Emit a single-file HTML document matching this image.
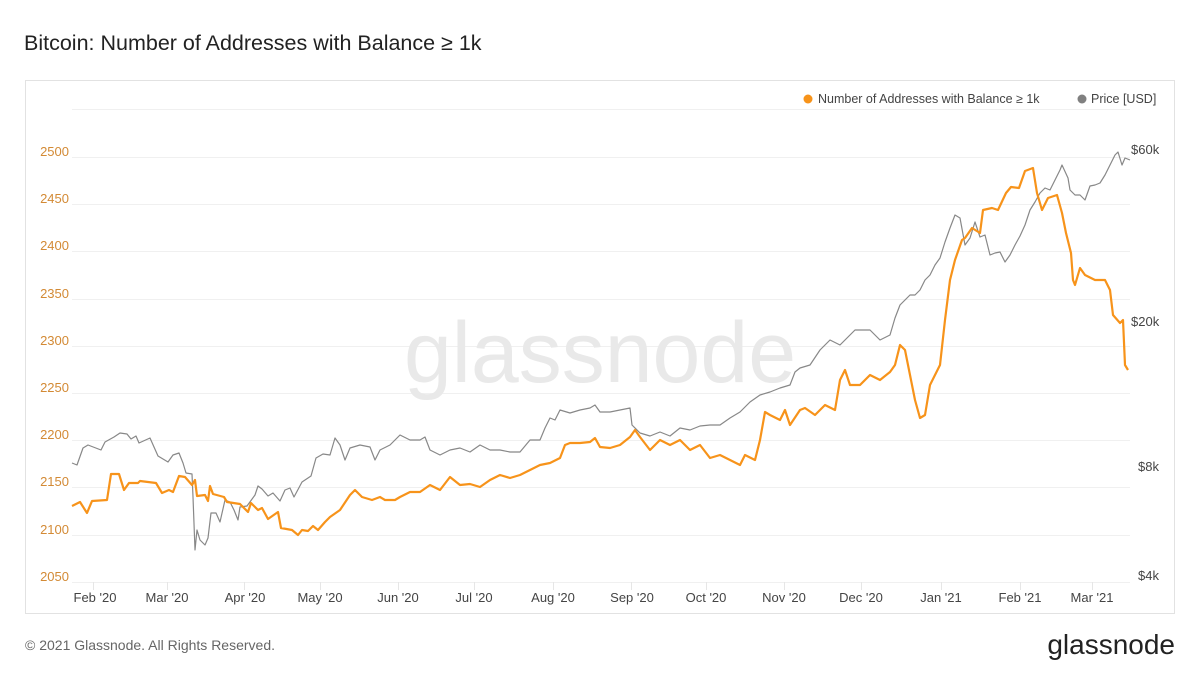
<!DOCTYPE html>
<html><head><meta charset="utf-8"><style>
body{margin:0;background:#fff;width:1200px;height:675px;overflow:hidden;font-family:"Liberation Sans",sans-serif}
</style></head><body>
<svg width="1200" height="675" xmlns="http://www.w3.org/2000/svg" font-family="Liberation Sans, sans-serif">
<text x="24" y="50" font-size="21.5" fill="#222" font-weight="500">Bitcoin: Number of Addresses with Balance ≥ 1k</text>
<rect x="25.5" y="80.5" width="1149" height="533" fill="#fff" stroke="#e2e2e2"/>
<g stroke="#f0f0f0" stroke-width="1">
<line x1="72" x2="1130" y1="109.5" y2="109.5"/>
<line x1="72" x2="1130" y1="157.5" y2="157.5"/>
<line x1="72" x2="1130" y1="204.5" y2="204.5"/>
<line x1="72" x2="1130" y1="251.5" y2="251.5"/>
<line x1="72" x2="1130" y1="299.5" y2="299.5"/>
<line x1="72" x2="1130" y1="346.5" y2="346.5"/>
<line x1="72" x2="1130" y1="393.5" y2="393.5"/>
<line x1="72" x2="1130" y1="440.5" y2="440.5"/>
<line x1="72" x2="1130" y1="487.5" y2="487.5"/>
<line x1="72" x2="1130" y1="535.5" y2="535.5"/>
<line x1="72" x2="1130" y1="582.5" y2="582.5"/>
</g>
<g stroke="#e6e6e6">
<line x1="93.5" x2="93.5" y1="582" y2="590"/><line x1="167.5" x2="167.5" y1="582" y2="590"/><line x1="244.5" x2="244.5" y1="582" y2="590"/><line x1="320.5" x2="320.5" y1="582" y2="590"/><line x1="398.5" x2="398.5" y1="582" y2="590"/><line x1="474.5" x2="474.5" y1="582" y2="590"/><line x1="553.5" x2="553.5" y1="582" y2="590"/><line x1="631.5" x2="631.5" y1="582" y2="590"/><line x1="706.5" x2="706.5" y1="582" y2="590"/><line x1="784.5" x2="784.5" y1="582" y2="590"/><line x1="861.5" x2="861.5" y1="582" y2="590"/><line x1="941.5" x2="941.5" y1="582" y2="590"/><line x1="1020.5" x2="1020.5" y1="582" y2="590"/><line x1="1092.5" x2="1092.5" y1="582" y2="590"/>
</g>
<text x="600" y="382" font-size="86" fill="#e9e9e9" text-anchor="middle" font-weight="500">glassnode</text>
<g font-size="13" fill="#d38a35" text-anchor="end">
<text x="69" y="156">2500</text><text x="69" y="203">2450</text><text x="69" y="250">2400</text><text x="69" y="298">2350</text><text x="69" y="345">2300</text><text x="69" y="392">2250</text><text x="69" y="439">2200</text><text x="69" y="486">2150</text><text x="69" y="534">2100</text><text x="69" y="581">2050</text>
</g>
<g font-size="13" fill="#444">
<text x="1131" y="154">$60k</text><text x="1131" y="326">$20k</text><text x="1138" y="471">$8k</text><text x="1138" y="580">$4k</text>
</g>
<g font-size="13" fill="#444" text-anchor="middle">
<text x="95" y="602">Feb '20</text><text x="167" y="602">Mar '20</text><text x="245" y="602">Apr '20</text><text x="320" y="602">May '20</text><text x="398" y="602">Jun '20</text><text x="474" y="602">Jul '20</text><text x="553" y="602">Aug '20</text><text x="632" y="602">Sep '20</text><text x="706" y="602">Oct '20</text><text x="784" y="602">Nov '20</text><text x="861" y="602">Dec '20</text><text x="941" y="602">Jan '21</text><text x="1020" y="602">Feb '21</text><text x="1092" y="602">Mar '21</text>
</g>
<circle cx="808" cy="99" r="4.5" fill="#f7931a"/>
<text x="818" y="103" font-size="12.5" fill="#444">Number of Addresses with Balance ≥ 1k</text>
<circle cx="1082" cy="99" r="4.5" fill="#808080"/>
<text x="1091" y="103" font-size="12.5" fill="#444">Price [USD]</text>
<polyline fill="none" stroke="#888" stroke-width="1.2" stroke-linejoin="round" points="72,463 77,465 83,448 88,445 101,450 105,442 114,437 120,433 127,434 131,439 136,436 139,443 150,438 158,456 168,462 173,455 179,453 183,463 186,473 192,474 193,497 195,550 197,530 200,540 205,545 208,538 211,513 216,513 220,522 225,500 230,502 234,510 238,520 240,507 247,506 255,495 258,486 262,489 268,496 273,493 280,501 285,490 290,488 294,497 302,482 311,476 316,458 323,454 330,455 335,438 340,445 345,460 350,448 360,445 370,447 375,460 380,450 390,445 395,440 400,435 410,440 420,440 425,437 430,450 440,455 450,450 460,448 470,452 480,445 490,450 500,450 510,452 520,452 530,440 540,440 545,428 550,418 555,420 560,410 570,413 580,410 590,408 595,405 600,412 610,412 620,410 630,408 632,425 640,433 650,436 660,432 670,436 680,428 690,430 700,426 710,425 720,425 730,418 740,412 750,402 760,395 770,392 780,388 790,385 795,372 800,368 810,365 820,350 830,340 840,345 850,335 855,330 860,330 870,330 880,340 890,335 895,318 900,305 905,300 910,295 915,295 920,290 925,280 930,275 935,265 940,258 945,242 950,228 955,215 960,218 965,245 970,238 975,222 980,237 985,235 990,255 995,253 1000,252 1005,262 1010,255 1015,245 1020,236 1025,225 1030,210 1035,202 1040,193 1045,188 1050,190 1055,180 1060,170 1062,165 1068,178 1070,190 1075,195 1080,195 1085,200 1090,186 1095,185 1100,183 1105,175 1110,165 1115,155 1118,152 1122,165 1125,158 1130,160"/>
<polyline fill="none" stroke="#f7931a" stroke-width="2.2" stroke-linejoin="round" points="72,506 80,502 87,513 92,501 107,500 111,474 119,474 124,490 129,483 138,483 140,481 156,483 162,493 169,490 173,492 179,476 185,477 192,485 195,480 197,496 205,495 208,501 210,486 213,494 224,497 227,502 240,504 248,512 251,503 258,510 262,508 268,519 278,512 281,528 292,530 298,535 302,530 308,531 313,526 318,530 325,522 330,517 340,510 350,495 355,490 362,497 372,500 380,497 385,500 395,500 400,497 410,492 420,492 430,485 440,490 450,477 460,485 470,484 480,487 490,480 500,475 510,478 520,475 530,470 540,465 550,463 560,458 565,445 570,443 580,443 590,442 595,438 600,447 610,448 620,445 630,437 635,430 640,437 650,450 660,440 670,445 680,440 690,450 700,445 710,458 720,455 730,460 740,465 745,455 755,460 760,440 765,412 770,415 780,420 785,410 790,425 800,410 805,408 815,415 825,405 835,410 840,380 845,370 850,385 860,385 870,375 880,380 890,372 895,365 900,345 905,350 910,375 915,400 920,418 925,415 930,385 935,375 940,365 945,320 950,280 955,260 962,240 965,238 972,228 980,233 983,210 992,208 998,210 1006,193 1011,187 1019,188 1025,171 1033,168 1037,193 1042,210 1048,198 1057,195 1062,213 1066,233 1071,253 1073,280 1075,285 1080,268 1085,275 1095,280 1105,280 1110,290 1113,315 1120,323 1123,320 1125,365 1128,370"/>
<text x="25" y="650" font-size="14" fill="#666">© 2021 Glassnode. All Rights Reserved.</text>
<text x="1175" y="654" font-size="28" fill="#222" text-anchor="end">glassnode</text>
</svg>
</body></html>
